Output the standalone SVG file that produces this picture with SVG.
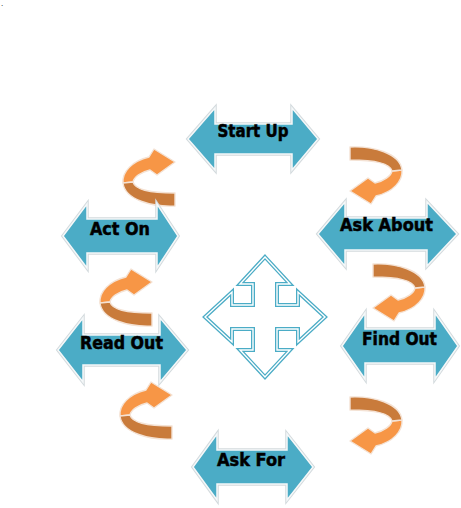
<svg xmlns="http://www.w3.org/2000/svg" width="461" height="508" viewBox="0 0 461 508">
<style>
.dbl-shadow{fill:none;stroke:#d3dadd;stroke-width:3.5;stroke-linejoin:miter}
.dbl{fill:#4BACC6;stroke:#f5f8f9;stroke-width:1.5;stroke-linejoin:miter}
.lbl{font-family:"DejaVu Sans","Liberation Sans",sans-serif;font-weight:bold;font-size:17px;fill:#000;stroke:#000;stroke-width:0.5;text-anchor:middle}
.cross-o{fill:#fff;stroke:#4BACC6;stroke-width:4;stroke-linejoin:miter}
.cross-i{fill:none;stroke:#fff;stroke-width:1.4;stroke-linejoin:miter}
.dark{fill:#C97B3B;stroke:#f4e2d4;stroke-width:1.4;stroke-linejoin:round}
.light{fill:#F79646;stroke:#f4e2d4;stroke-width:1.4;stroke-linejoin:round}
</style>
<defs>
<g id="curl">
<path class="light" d="M54 24 C55 35 45 46 28 50 L23 58 L2 45 L20 32 L27 37 C36 35 43 30 44 25 Z"/>
<path class="dark" d="M2 1 C25 0 52 7 54 24 L44 25 C42 18 30 14 2 14 Z"/>
</g>
</defs>
<text x="1" y="6" font-family="Liberation Sans, sans-serif" font-size="8" fill="#000">.</text>
<g id="connectors">
<use href="#curl" transform="translate(177,207) rotate(180)"/>
<use href="#curl" transform="translate(348,146)"/>
<use href="#curl" transform="translate(154,327) rotate(180)"/>
<use href="#curl" transform="translate(371,263)"/>
<use href="#curl" transform="translate(174,440) rotate(180)"/>
<use href="#curl" transform="translate(348,396)"/>
</g>
<g id="start-up">
<path class="dbl-shadow" d="M188 139 L215 108 L215 124 L292 124 L292 108 L318 139 L292 170 L292 154 L215 154 L215 170 Z"/>
<path class="dbl" d="M188 139 L215 108 L215 124 L292 124 L292 108 L318 139 L292 170 L292 154 L215 154 L215 170 Z"/>
<text class="lbl" x="253" y="137" textLength="71" lengthAdjust="spacingAndGlyphs">Start Up</text>
</g>
<g id="ask-about">
<path class="dbl-shadow" d="M318 234 L345 202 L345 218 L427 218 L427 202 L457 234 L427 266 L427 250 L345 250 L345 266 Z"/>
<path class="dbl" d="M318 234 L345 202 L345 218 L427 218 L427 202 L457 234 L427 266 L427 250 L345 250 L345 266 Z"/>
<text class="lbl" x="386.5" y="231" textLength="93" lengthAdjust="spacingAndGlyphs">Ask About</text>
</g>
<g id="find-out">
<path class="dbl-shadow" d="M342 346 L365 313 L365 329 L435 329 L435 313 L458 346 L435 379 L435 363 L365 363 L365 379 Z"/>
<path class="dbl" d="M342 346 L365 313 L365 329 L435 329 L435 313 L458 346 L435 379 L435 363 L365 363 L365 379 Z"/>
<text class="lbl" x="399.5" y="345" textLength="75" lengthAdjust="spacingAndGlyphs">Find Out</text>
</g>
<g id="ask-for">
<path class="dbl-shadow" d="M193 467 L217 434 L217 450 L287 450 L287 434 L313 467 L287 500 L287 484 L217 484 L217 500 Z"/>
<path class="dbl" d="M193 467 L217 434 L217 450 L287 450 L287 434 L313 467 L287 500 L287 484 L217 484 L217 500 Z"/>
<text class="lbl" x="251" y="466" textLength="68" lengthAdjust="spacingAndGlyphs">Ask For</text>
</g>
<g id="act-on">
<path class="dbl-shadow" d="M63 236 L87 204 L87 219 L157 219 L157 204 L178 236 L157 268 L157 253 L87 253 L87 268 Z"/>
<path class="dbl" d="M63 236 L87 204 L87 219 L157 219 L157 204 L178 236 L157 268 L157 253 L87 253 L87 268 Z"/>
<text class="lbl" x="120" y="235" textLength="60" lengthAdjust="spacingAndGlyphs">Act On</text>
</g>
<g id="read-out">
<path class="dbl-shadow" d="M58 350 L83 318 L83 335 L160 335 L160 318 L187 350 L160 382 L160 365 L83 365 L83 382 Z"/>
<path class="dbl" d="M58 350 L83 318 L83 335 L160 335 L160 318 L187 350 L160 382 L160 365 L83 365 L83 382 Z"/>
<text class="lbl" x="121.5" y="349" textLength="83" lengthAdjust="spacingAndGlyphs">Read Out</text>
</g>
<g id="center-cross">
<path class="cross-o" d="M265 257 L290 284 L277 284 L277 305 L298 305 L298 292 L325 317 L298 342 L298 329 L277 329 L277 350 L290 350 L265 377 L240 350 L253 350 L253 329 L232 329 L232 342 L205 317 L232 292 L232 305 L253 305 L253 284 L240 284 Z"/>
<path class="cross-i" d="M265 257 L290 284 L277 284 L277 305 L298 305 L298 292 L325 317 L298 342 L298 329 L277 329 L277 350 L290 350 L265 377 L240 350 L253 350 L253 329 L232 329 L232 342 L205 317 L232 292 L232 305 L253 305 L253 284 L240 284 Z"/>
</g>
</svg>
